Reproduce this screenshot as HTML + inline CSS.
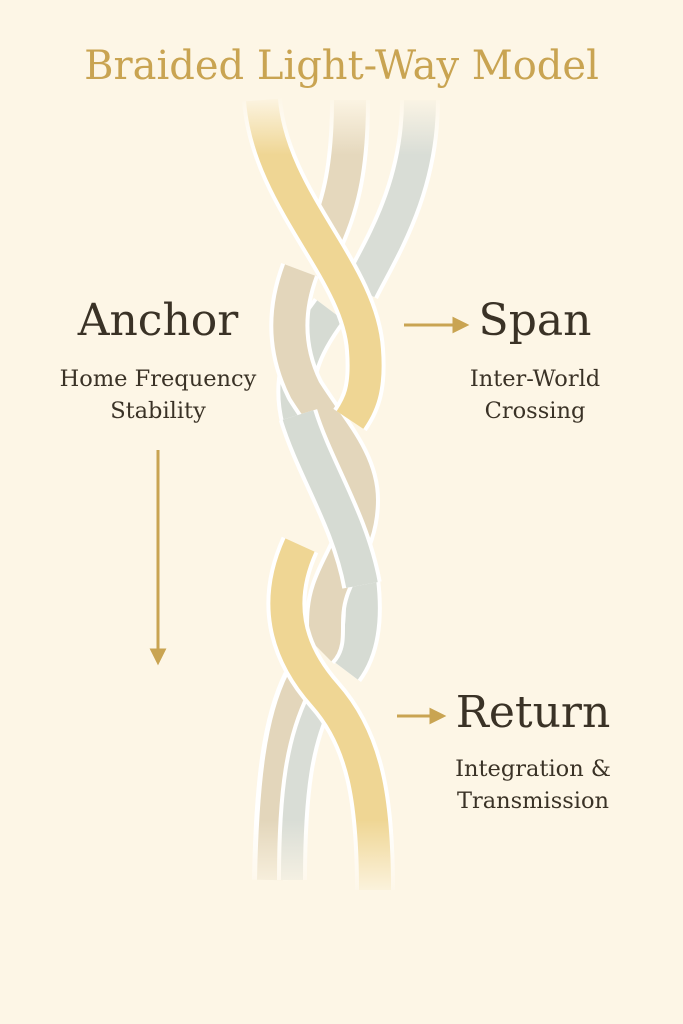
<!DOCTYPE html>
<html><head><style>
body{margin:0;width:683px;height:1024px;background:#fdf6e6;overflow:hidden;font-family:"DejaVu Serif",serif}
.t{position:absolute;text-align:center;color:#3a3226;white-space:nowrap}
</style></head><body>
<div class="t" style="left:0;width:683px;top:43px;font-size:40px;color:#c9a452">Braided Light-Way Model</div>
<svg width="683" height="1024" style="position:absolute;left:0;top:0">
<defs>
<linearGradient id="fadeT" x1="0" y1="0" x2="0" y2="1"><stop offset="0" stop-color="#fdf6e6" stop-opacity="1"/><stop offset="1" stop-color="#fdf6e6" stop-opacity="0"/></linearGradient>
<linearGradient id="fadeB" x1="0" y1="0" x2="0" y2="1"><stop offset="0" stop-color="#fdf6e6" stop-opacity="0"/><stop offset="1" stop-color="#fdf6e6" stop-opacity="1"/></linearGradient>
</defs>
<g fill="none" stroke-linecap="butt">
<path d="M420,100 C420,190 380,250 360,290" stroke="#fff" stroke-width="40"/>
<path d="M420,100 C420,190 380,250 360,290" stroke="#d9ddd6" stroke-width="32"/>
<path d="M350,100 C350,170 340,210 320,250" stroke="#fff" stroke-width="40"/>
<path d="M350,100 C350,170 340,210 320,250" stroke="#e5d8bd" stroke-width="32"/>
<path d="M330,310 C300,350 290,380 300,420 C315,470 350,520 360,580 C365,620 360,650 345,670" stroke="#fff" stroke-width="40"/>
<path d="M330,310 C300,350 290,380 300,420 C315,470 350,520 360,580 C365,620 360,650 345,670" stroke="#d6dbd3" stroke-width="32"/>
<path d="M300,270 C285,310 285,350 305,390 C330,430 360,460 360,500 C360,540 340,560 330,590 C320,620 330,640 320,650" stroke="#fff" stroke-width="40"/>
<path d="M300,270 C285,310 285,350 305,390 C330,430 360,460 360,500 C360,540 340,560 330,590 C320,620 330,640 320,650" stroke="#e3d6bb" stroke-width="32"/>
<path d="M298,415 C315,470 350,520 362,585" stroke="#fff" stroke-width="40"/>
<path d="M298,415 C315,470 350,520 362,585" stroke="#d6dbd3" stroke-width="32"/>
<path d="M262,100 C270,200 360,270 365,350 C368,390 360,405 350,420" stroke="#fff" stroke-width="40"/>
<path d="M262,100 C270,200 360,270 365,350 C368,390 360,405 350,420" stroke="#efd694" stroke-width="32"/>
<path d="M300,680 C280,720 272,780 270,880" stroke="#fff" stroke-width="36"/>
<path d="M300,680 C280,720 272,780 270,880" stroke="#e3d6bb" stroke-width="26"/>
<path d="M320,700 C300,740 292,790 292,880" stroke="#fff" stroke-width="30"/>
<path d="M320,700 C300,740 292,790 292,880" stroke="#d9ddd6" stroke-width="22"/>
<path d="M300,545 C275,600 285,650 325,695 C365,740 375,800 375,890" stroke="#fff" stroke-width="40"/>
<path d="M300,545 C275,600 285,650 325,695 C365,740 375,800 375,890" stroke="#efd694" stroke-width="32"/>
</g>
<rect x="220" y="95" width="240" height="60" fill="url(#fadeT)"/>
<rect x="220" y="820" width="240" height="80" fill="url(#fadeB)"/>
<g stroke="#c9a452" stroke-width="3" fill="#c9a452">
<line x1="404" y1="325" x2="455" y2="325"/><polygon points="466,325 454,319 454,331"/>
<line x1="397" y1="716" x2="432" y2="716"/><polygon points="443,716 431,710 431,722"/>
<line x1="158" y1="450" x2="158" y2="650"/><polygon points="158,662 152,650 164,650"/>
</g>
</svg>
<div class="t" style="left:38px;width:240px;top:295px;font-size:44px">Anchor</div>
<div class="t" style="left:18px;width:280px;top:363px;font-size:22.5px;line-height:32px">Home Frequency<br>Stability</div>
<div class="t" style="left:415px;width:240px;top:295px;font-size:44px">Span</div>
<div class="t" style="left:415px;width:240px;top:363px;font-size:22.5px;line-height:32px">Inter-World<br>Crossing</div>
<div class="t" style="left:413px;width:240px;top:687px;font-size:44px">Return</div>
<div class="t" style="left:413px;width:240px;top:753px;font-size:22.5px;line-height:32px">Integration &amp;<br>Transmission</div>
</body></html>
